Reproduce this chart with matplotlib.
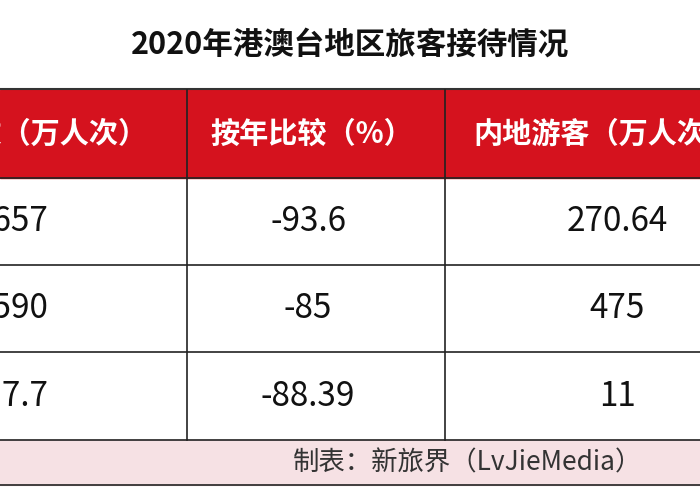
import matplotlib
matplotlib.use("Agg")
import matplotlib.pyplot as plt
from matplotlib.patches import Rectangle

plt.rcParams['font.family'] = ['Noto Sans CJK SC', 'DejaVu Sans']

title = "2020年港澳台地区旅客接待情况"
headers = ["访客总数（万人次）", "按年比较（%）", "内地游客（万人次）"]
col_total = ["356.657", "589.590", "137.7"]
col_yoy = ["-93.6", "-85", "-88.39"]
col_mainland = ["270.64", "475", "11"]
footer = "制表：新旅界（LvJieMedia）"

fig = plt.figure(figsize=(7, 4.9), dpi=100)
ax = fig.add_axes([0, 0, 1, 1])
ax.set_xlim(0, 700)
ax.set_ylim(490, 0)
ax.axis('off')

row_edges = [178, 265, 352, 440]
red = "#d5121e"

ax.text(350, 45, title, ha='center', va='center', fontsize=22, fontweight='bold', color='#111111')
ax.plot([0, 700], [89, 89], color='#333333', lw=1.5)
ax.add_patch(Rectangle((0, 90), 700, 88, color=red, zorder=0))
ax.add_patch(Rectangle((0, 440), 700, 45, color='#f6e1e4', zorder=0))

ax.text(148, 134, headers[0], ha='right', va='center', fontsize=21, color='white', fontweight='bold')
ax.text(312, 134, headers[1], ha='center', va='center', fontsize=21, color='white', fontweight='bold')
ax.text(473, 134, headers[2], ha='left', va='center', fontsize=21, color='white', fontweight='bold')

for r in range(3):
    cy = (row_edges[r] + row_edges[r + 1]) / 2
    ax.text(48, cy, col_total[r], ha='right', va='center', fontsize=24, color='#111111')
    ax.text(308, cy, col_yoy[r], ha='center', va='center', fontsize=24, color='#111111')
    ax.text(617, cy, col_mainland[r], ha='center', va='center', fontsize=24, color='#111111')

for y in row_edges:
    ax.plot([0, 700], [y, y], color='#222222', lw=1.2)
ax.plot([0, 700], [485, 485], color='#222222', lw=1.2)
for x in [187, 445]:
    ax.plot([x, x], [90, 440], color='#222222', lw=1.2)

ax.text(293, 463, footer, ha='left', va='center', fontsize=19, color='#333333')

fig.savefig("out.png", dpi=100)
